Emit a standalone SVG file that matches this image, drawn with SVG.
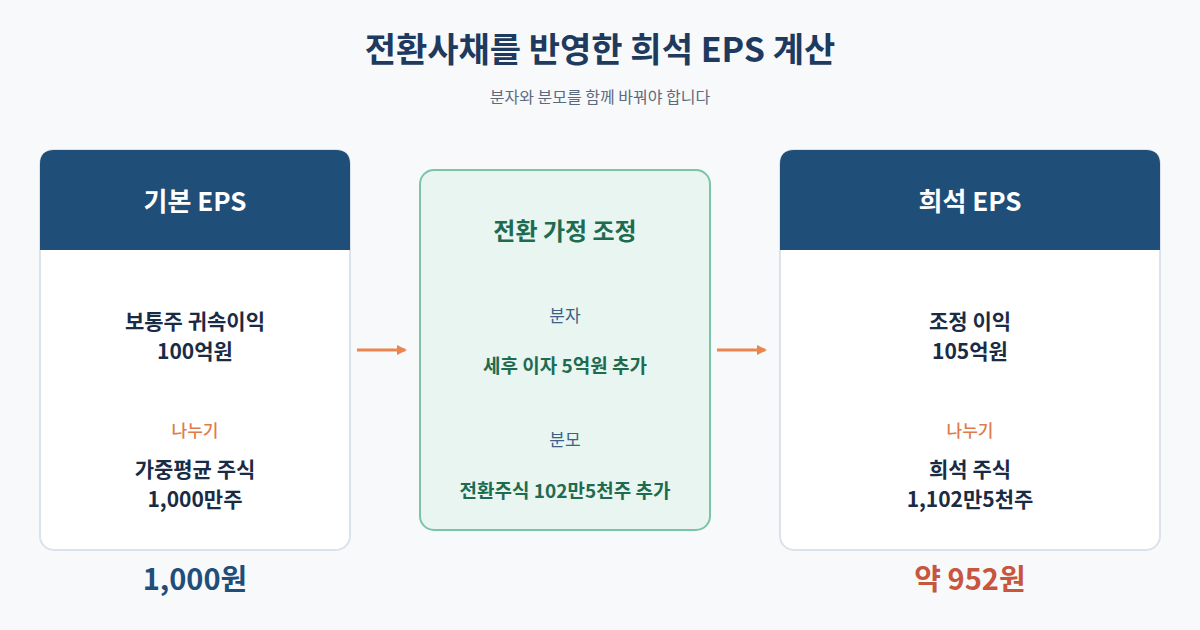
<svg xmlns="http://www.w3.org/2000/svg" width="1200" height="630" viewBox="0 0 1200 630">
<style>
text{font-family:"Noto Sans CJK KR","Noto Sans",sans-serif;text-anchor:middle}
.card{fill:#fff;stroke:#dbe2ea;stroke-width:2}
.hd{fill:#1f4e79}
.ht{fill:#fff;font-size:26px;font-weight:700}
.b{fill:#1a2b45;font-size:21px;font-weight:700}
.div{fill:#e07b4a;font-size:17px;font-weight:500}
.g{fill:#1e6b50;font-weight:700}
.lab{fill:#3d5f8a;font-size:17px}
</style>
<defs><marker id="ah" markerWidth="10" markerHeight="10" refX="8" refY="5" orient="auto" markerUnits="userSpaceOnUse"><path d="M0,0 L10,5 L0,10 z" fill="#ea8550"/></marker></defs>
<rect width="1200" height="630" fill="#f7f9fb"/>
<text x="600" y="62" font-size="34" font-weight="700" fill="#1e3a5f">전환사채를 반영한 희석 EPS 계산</text>
<text x="600" y="103" font-size="16" fill="#5b6b7e">분자와 분모를 함께 바꿔야 합니다</text>
<g id="basic">
<rect class="card" x="40" y="150" width="310" height="400" rx="14"/>
<path class="hd" d="M54,150 H336 Q350,150 350,164 V250 H40 V164 Q40,150 54,150 Z"/>
<text class="ht" x="195" y="211">기본 EPS</text>
<text class="b" x="195" y="329">보통주 귀속이익</text>
<text class="b" x="195" y="359">100억원</text>
<text class="div" x="195" y="437">나누기</text>
<text class="b" x="195" y="477">가중평균 주식</text>
<text class="b" x="195" y="507">1,000만주</text>
<text x="195" y="590" font-size="29" font-weight="700" fill="#1f4e79">1,000원</text>
</g>
<g id="adjust">
<rect x="420" y="170" width="290" height="360" rx="14" fill="#e8f5f0" stroke="#7cc4a8" stroke-width="2"/>
<text class="g" x="565" y="240" font-size="24">전환 가정 조정</text>
<text class="lab" x="565" y="322">분자</text>
<text class="g" x="565" y="373" font-size="19">세후 이자 5억원 추가</text>
<text class="lab" x="565" y="446">분모</text>
<text class="g" x="565" y="498" font-size="19">전환주식 102만5천주 추가</text>
</g>
<g id="diluted">
<rect class="card" x="780" y="150" width="380" height="400" rx="14"/>
<path class="hd" d="M794,150 H1146 Q1160,150 1160,164 V250 H780 V164 Q780,150 794,150 Z"/>
<text class="ht" x="970" y="211">희석 EPS</text>
<text class="b" x="970" y="329">조정 이익</text>
<text class="b" x="970" y="359">105억원</text>
<text class="div" x="970" y="437">나누기</text>
<text class="b" x="970" y="477">희석 주식</text>
<text class="b" x="970" y="507">1,102만5천주</text>
<text x="970" y="590" font-size="29" font-weight="700" fill="#c8553d">약 952원</text>
</g>
<g id="connectors" stroke="#ea8550" stroke-width="3" fill="none">
<line x1="357" y1="350" x2="405" y2="350" marker-end="url(#ah)"/>
<line x1="717" y1="350" x2="765" y2="350" marker-end="url(#ah)"/>
</g>
</svg>
